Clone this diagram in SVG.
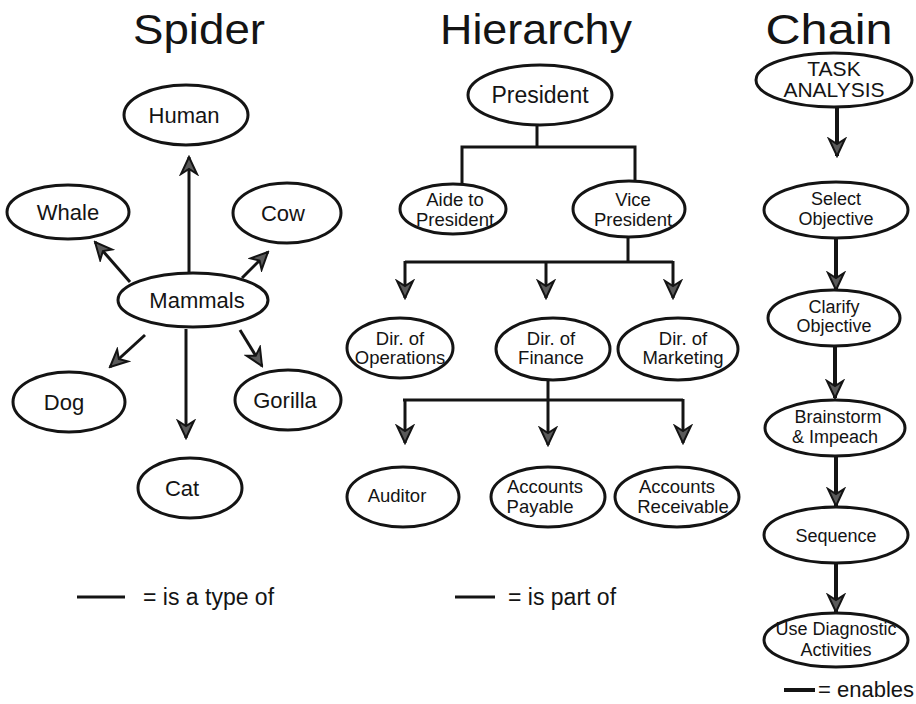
<svg xmlns="http://www.w3.org/2000/svg" width="916" height="704" viewBox="0 0 916 704">
  <style>
    text { font-family: "Liberation Sans", Arial, sans-serif; fill: #141414; text-anchor: middle; }
    .title { font-size: 42px; }
    .sp { font-size: 22px; }
    .hi { font-size: 18.5px; }
    .ch { font-size: 18px; }
    .legend { font-size: 23px; text-anchor: start; }
    ellipse { fill: #fff; stroke: #141414; stroke-width: 3; }
    .link { fill: none; stroke: #141414; stroke-width: 3; }
    .link4 { fill: none; stroke: #141414; stroke-width: 4; }
    .arrow { fill: none; stroke: #141414; stroke-width: 3; marker-end: url(#ah); }
    .arrow4 { fill: none; stroke: #141414; stroke-width: 4; marker-end: url(#ah); }
  </style>
  <defs>
    <marker id="ah" viewBox="-19 -10 21 20" refX="0" refY="0" markerWidth="21" markerHeight="20" orient="auto" markerUnits="userSpaceOnUse">
      <path d="M0,0 L-17,-8 L-12,0 L-17,8 Z" fill="#5a5a5a" stroke="#141414" stroke-width="2" stroke-linejoin="miter"/>
    </marker>
  </defs>
  <rect width="916" height="704" fill="#fff"/>

  <!-- column titles -->
  <g id="titles">
    <text class="title" x="199" y="44" textLength="132" lengthAdjust="spacingAndGlyphs">Spider</text>
    <text class="title" x="536" y="44" textLength="192" lengthAdjust="spacingAndGlyphs">Hierarchy</text>
    <text class="title" x="829" y="44" textLength="127" lengthAdjust="spacingAndGlyphs">Chain</text>
  </g>

  <!-- connectors -->
  <g id="connectors">
    <!-- spider: type-of links -->
    <path class="arrow" d="M189,272 L189,157"/>
    <path class="arrow" d="M130,282 L95,242"/>
    <path class="arrow" d="M242,278 L268,252"/>
    <path class="arrow" d="M145,335 L110,367"/>
    <path class="arrow" d="M186,329 L186,438"/>
    <path class="arrow" d="M240,330 L262,366"/>
    <!-- hierarchy: part-of links -->
    <path class="link" d="M537,125 L537,147 M462,186 L462,147 L635,147 L635,182"/>
    <path class="link" d="M628,237 L628,262 M405,262 L673,262"/>
    <path class="arrow" d="M405,261 L405,298"/>
    <path class="arrow" d="M546,261 L546,298"/>
    <path class="arrow" d="M673,261 L673,298"/>
    <path class="link" d="M548,380 L548,400 M403,400 L683,400"/>
    <path class="arrow" d="M405,399 L405,443"/>
    <path class="arrow" d="M548,399 L548,445"/>
    <path class="arrow" d="M683,399 L683,443"/>
    <!-- chain: enables links -->
    <path class="arrow4" d="M837,107 L837,156"/>
    <path class="arrow4" d="M836,238 L836,290"/>
    <path class="arrow4" d="M835,346 L835,398"/>
    <path class="arrow4" d="M836,456 L836,506"/>
    <path class="arrow4" d="M836,563 L836,612"/>
  </g>

  <!-- spider nodes -->
  <g id="human"><ellipse cx="186" cy="115" rx="62" ry="30"/><text class="sp" x="184" y="123">Human</text></g>
  <g id="whale"><ellipse cx="68" cy="212" rx="61" ry="27"/><text class="sp" x="68" y="220">Whale</text></g>
  <g id="cow"><ellipse cx="287" cy="213" rx="54" ry="30"/><text class="sp" x="283" y="221">Cow</text></g>
  <g id="mammals"><ellipse cx="193" cy="300" rx="75" ry="27"/><text class="sp" x="197" y="308">Mammals</text></g>
  <g id="dog"><ellipse cx="69" cy="402" rx="56" ry="30"/><text class="sp" x="64" y="410">Dog</text></g>
  <g id="gorilla"><ellipse cx="288" cy="400" rx="53" ry="30"/><text class="sp" x="285" y="408">Gorilla</text></g>
  <g id="cat"><ellipse cx="190" cy="488" rx="52" ry="30"/><text class="sp" x="182" y="496">Cat</text></g>

  <!-- hierarchy nodes -->
  <g id="president"><ellipse cx="540" cy="95" rx="72" ry="30"/><text x="540" y="103" style="font-size:23px">President</text></g>
  <g id="aide"><ellipse cx="453" cy="209" rx="53" ry="25"/><text class="hi" x="455" y="206">Aide to</text><text class="hi" x="455" y="226">President</text></g>
  <g id="vice-president"><ellipse cx="629" cy="209" rx="56" ry="28"/><text class="hi" x="633" y="206">Vice</text><text class="hi" x="633" y="226">President</text></g>
  <g id="dir-operations"><ellipse cx="400" cy="348" rx="53" ry="30"/><text class="hi" x="400" y="345">Dir. of</text><text class="hi" x="400" y="364">Operations</text></g>
  <g id="dir-finance"><ellipse cx="553" cy="349" rx="57" ry="31"/><text class="hi" x="551" y="345">Dir. of</text><text class="hi" x="551" y="364">Finance</text></g>
  <g id="dir-marketing"><ellipse cx="678" cy="349" rx="60" ry="31"/><text class="hi" x="683" y="345">Dir. of</text><text class="hi" x="683" y="364">Marketing</text></g>
  <g id="auditor"><ellipse cx="403" cy="497" rx="56" ry="30"/><text class="hi" x="397" y="502">Auditor</text></g>
  <g id="accounts-payable"><ellipse cx="548" cy="497" rx="57" ry="30"/><text class="hi" x="545" y="493">Accounts</text><text class="hi" x="540" y="513">Payable</text></g>
  <g id="accounts-receivable"><ellipse cx="677" cy="497" rx="62" ry="30"/><text class="hi" x="677" y="493">Accounts</text><text class="hi" x="683" y="513">Receivable</text></g>

  <!-- chain nodes -->
  <g id="task-analysis"><ellipse cx="834" cy="80" rx="78" ry="27"/><text x="834" y="76" style="font-size:21px">TASK</text><text x="834" y="97" style="font-size:21px">ANALYSIS</text></g>
  <g id="select-objective"><ellipse cx="836" cy="210" rx="72" ry="28"/><text class="ch" x="836" y="205">Select</text><text class="ch" x="836" y="225">Objective</text></g>
  <g id="clarify-objective"><ellipse cx="834" cy="318" rx="66" ry="28"/><text class="ch" x="834" y="313">Clarify</text><text class="ch" x="834" y="332">Objective</text></g>
  <g id="brainstorm"><ellipse cx="835" cy="428" rx="70" ry="28"/><text class="ch" x="838" y="423">Brainstorm</text><text class="ch" x="835" y="443">&amp; Impeach</text></g>
  <g id="sequence"><ellipse cx="836" cy="535" rx="72" ry="28"/><text class="ch" x="836" y="542">Sequence</text></g>
  <g id="use-diagnostic"><ellipse cx="836" cy="640" rx="72" ry="27"/><text class="ch" x="836" y="635">Use Diagnostic</text><text class="ch" x="836" y="656">Activities</text></g>

  <!-- legends -->
  <g id="legend-spider"><path class="link" d="M77,597 L125,597"/><text class="legend" x="143" y="605">= is a type of</text></g>
  <g id="legend-hierarchy"><path class="link" d="M455,597 L495,597"/><text class="legend" x="508" y="605">= is part of</text></g>
  <g id="legend-chain"><path class="link4" d="M784,690 L815,690"/><text class="legend" x="818" y="697" style="font-size:22px">= enables</text></g>
</svg>
